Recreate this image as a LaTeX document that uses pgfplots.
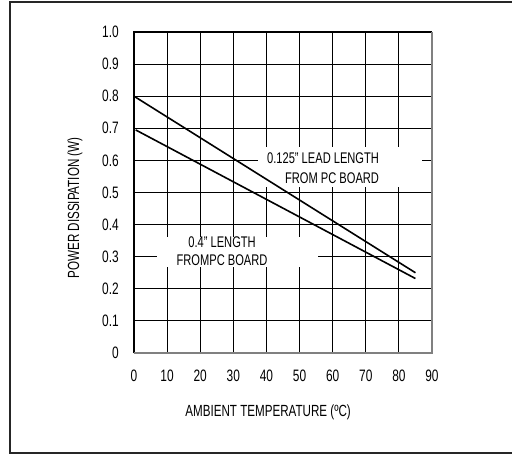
\documentclass[border=0pt]{standalone}
\usepackage{pgfplots}
\pgfplotsset{compat=1.18}
\usepackage{fontspec}
\setmainfont[FakeStretch=0.72]{Liberation Sans}
\begin{document}
\begin{tikzpicture}[x=1bp,y=1bp]
\useasboundingbox (-134bp,-102bp) rectangle (378bp,353bp);
\begin{axis}[
  at={(0,0)}, anchor=south west,
  width=298bp, height=321bp, scale only axis,
  xmin=0, xmax=90, ymin=0, ymax=1,
  xtick={0,10,20,30,40,50,60,70,80,90},
  ytick={0,0.1,0.2,0.3,0.4,0.5,0.6,0.7,0.8,0.9,1.0},
  yticklabels={0,0.1,0.2,0.3,0.4,0.5,0.6,0.7,0.8,0.9,1.0},
  xticklabels={0,10,20,30,40,50,60,70,80,90},
  grid=major, major grid style={black, line width=0.9bp},
  major tick length=0pt, tick style={draw=none},
  axis line style={draw=none},
  /pgf/number format/assume math mode=true,
  ticklabel style={font=\fontsize{16.6}{18}\selectfont, inner sep=0pt},
  yticklabel style={anchor=east, xshift=-15bp},
  xticklabel style={anchor=north, yshift=-17bp},
  xlabel={AMBIENT TEMPERATURE (ºC)},
  ylabel={POWER DISSIPATION (W)},
  label style={font=\fontsize{16.2}{18}\selectfont, inner sep=0pt},
  xlabel style={at={(axis description cs:0.45,-0.184)}, anchor=center},
  ylabel style={at={(axis description cs:-0.198,0.452)}, anchor=center},
  clip=false,
]
\fill[white] (axis cs:37.4,0.517) rectangle (axis cs:87,0.642);
\fill[white] (axis cs:6.9,0.268) rectangle (axis cs:55.6,0.36);
\addplot[black, line width=1.6bp] coordinates {(0,0.80) (85,0.25)};
\addplot[black, line width=1.6bp] coordinates {(0.5,0.695) (85,0.232)};
\node[font=\fontsize{15.5}{20}\selectfont, align=right, inner sep=0pt] at (axis cs:57.1,0.576) {0.125" LEAD LENGTH\\FROM PC BOARD};
\node[font=\fontsize{15.5}{18}\selectfont, align=center, inner sep=0pt] at (axis cs:26.6,0.318) {0.4" LENGTH\\FROMPC BOARD};
\draw[black, line width=1.2bp] (rel axis cs:0,0) -- (rel axis cs:0,1) -- (rel axis cs:1,1);
\draw[gray, line width=1.8bp] (rel axis cs:1,1) -- (rel axis cs:1,0) -- (rel axis cs:0,0);
\end{axis}
\draw[black!85, line width=1.5bp] (378bp,351bp) -- (-124bp,351bp) -- (-124bp,-100bp) -- (378bp,-100bp);
\end{tikzpicture}
\end{document}
